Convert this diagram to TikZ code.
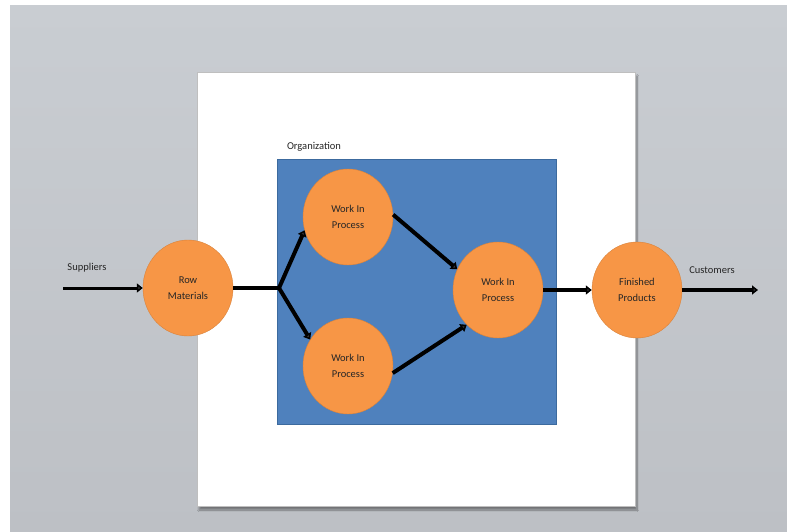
\documentclass[tikz,border=0pt]{standalone}
\usepackage{fontspec}
\setmainfont{Carlito}
\usetikzlibrary{arrows.meta,shapes.geometric,shadows.blur}
\definecolor{pagegray}{HTML}{C9CDD2}
\definecolor{pagegraylow}{HTML}{BDC0C5}
\definecolor{orgblue}{HTML}{4F81BD}
\definecolor{orgblueline}{HTML}{3C6A9E}
\definecolor{wipfill}{HTML}{F79646}
\definecolor{wipline}{HTML}{D9823A}
\tikzset{
  stage/.style={ellipse, draw=wipline, fill=wipfill, minimum width=90pt,
    minimum height=96pt, inner sep=0pt, align=center, text=black!85,
    font=\fontsize{10.5}{16}\selectfont},
  label/.style={text=black!85, font=\fontsize{10.5}{12}\selectfont},
  flow/.style={line width=4pt, -{Triangle[length=6pt,width=9pt]}},
}
\begin{document}
\begin{tikzpicture}[x=1pt,y=-1pt]
  \useasboundingbox (0,0) rectangle (787,532);
  \fill[white] (0,0) rectangle (787,532);
  \shade[top color=pagegray, bottom color=pagegraylow] (10,6) rectangle (787,532);
  \fill[white, draw=black!25, blur shadow={shadow xshift=2pt, shadow yshift=-4pt, shadow blur steps=10}]
    (197,72) rectangle (635,506);
  \fill[orgblue, draw=orgblueline] (277,159) rectangle (556,424);

  \node[label] (org) at (314,147) {Organization};
  \node[label] (sup) at (87,268) {Suppliers};
  \node[label] (cus) at (712,270) {Customers};

  \node[stage] (rm) at (188,288) {Row\\Materials};
  \node[stage] (wa) at (348,217) {Work In\\Process};
  \node[stage] (wb) at (348,366) {Work In\\Process};
  \node[stage] (wc) at (498,290) {Work In\\Process};
  \node[stage] (fp) at (637,290) {Finished\\Products};

  \coordinate (su) at (63,288);
  \coordinate (br) at (279,288);
  \coordinate (cu) at (758,290);

  \draw[flow, line width=3pt] (su) -- (rm.west);
  \draw[line width=4pt] (rm.east) -- (br);
  \draw[flow] (br) -- (wa.197);
  \draw[flow] (br) -- (wb.145);
  \draw[flow] (wa.3) -- (wc.153);
  \draw[flow] (wb.-9) -- (wc.228);
  \draw[flow] (wc.east) -- (fp.west);
  \draw[flow] (fp.east) -- (cu);
\end{tikzpicture}
\end{document}
